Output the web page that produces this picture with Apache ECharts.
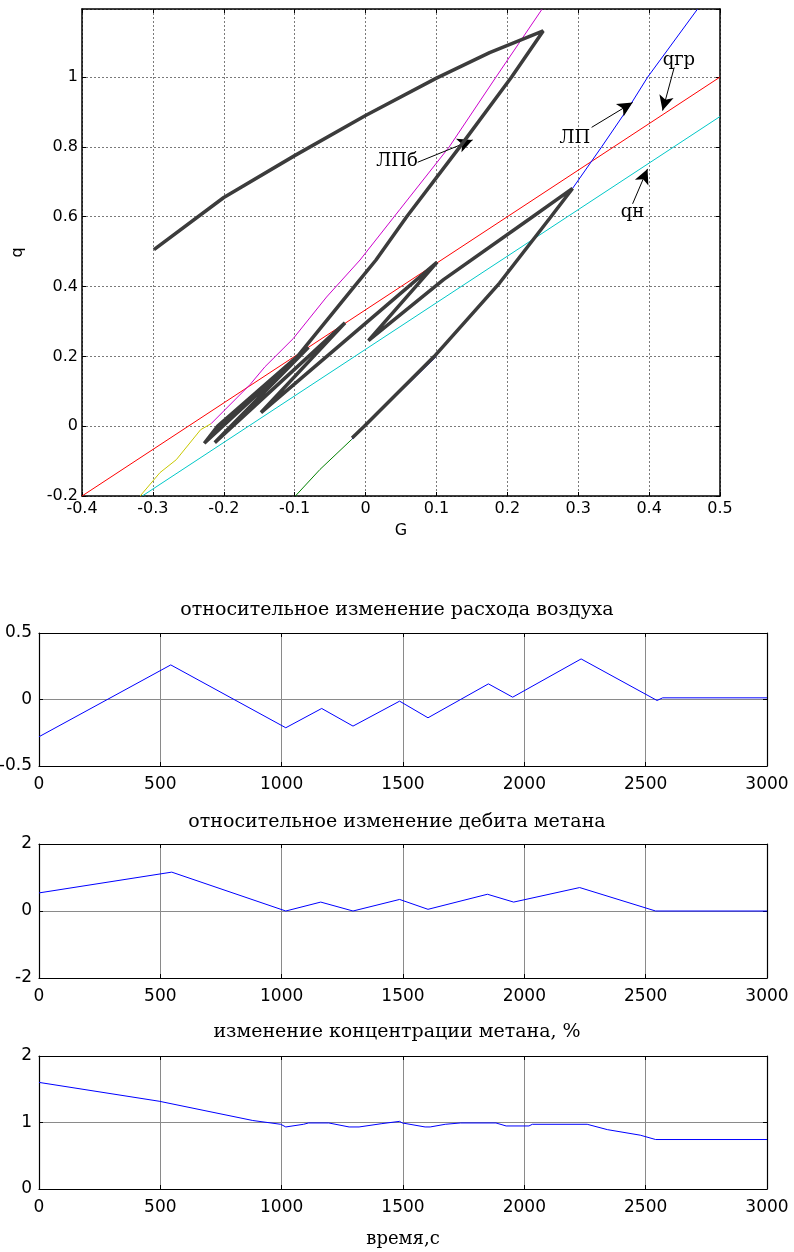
<!DOCTYPE html>
<html><head><meta charset="utf-8">
<script src="https://cdn.jsdelivr.net/npm/echarts/dist/echarts.min.js"></script>
<style>html,body{margin:0;padding:0;background:#fff}#c{width:794px;height:1252px}</style>
</head><body><div id="c"></div>
<script>
// ---------- top plot (q vs G) ----------
const trajG = [-0.2985,-0.2,-0.1,0.0,0.1,0.175,0.2506, 0.206,0.133,0.058,0.0147,-0.016,-0.096,-0.2086,-0.2275, -0.0805,-0.2127,-0.029,-0.1475,0.101,0.004,0.11,0.2357,0.292, 0.2615,0.189,0.097,-0.0018,-0.019];
const trajQ = [0.506,0.655,0.775,0.89,0.997,1.07,1.132, 1.0,0.8,0.6,0.476,0.4,0.2,0.0,-0.049, 0.226,-0.047,0.296,0.039,0.47,0.245,0.42,0.6,0.681, 0.6,0.41,0.2,0.0,-0.034];
const qgrG = [-0.4, 0.5], qgrQ = [-0.2, 1.0];
const qnG = [-0.315, 0.5], qnQ = [-0.2, 0.887];
const lpbG = [-0.218,-0.163,-0.142,-0.102,-0.055,-0.0078,0.0485,0.118,0.184,0.2488];
const lpbQ = [0.007,0.119,0.17,0.251,0.37,0.476,0.621,0.8,1.0,1.194];
const lpG = [0.292,0.333,0.3743,0.398,0.468], lpQ = [0.681,0.8,0.923,1.0,1.194];
const yelG = [-0.318,-0.29,-0.267,-0.2326,-0.218], yelQ = [-0.2,-0.133,-0.096,-0.01,0.007];
const grnG = [-0.099,-0.0643,-0.0196], grnQ = [-0.2,-0.124,-0.038];
const navG = [-0.0196,0.1], navQ = [-0.038,0.2];
// annotations
const annText = ['ЛПб','ЛП','qгр','qн'];
const annG = [0.0443,0.2953,0.442,0.3767], annQ = [0.758,0.824,1.047,0.612];
const arrFromG = [0.0735,0.3189,0.4354,0.3767], arrFromQ = [0.756,0.856,1.0275,0.637];
const arrToG = [0.151,0.3767,0.419,0.3978], arrToQ = [0.82,0.927,0.904,0.737];
// ---------- time series ----------
const airT = [0,543,1017,1165,1294,1486,1603,1852,1952,2234,2547,2570,3000];
const airV = [-0.28,0.26,-0.2125,-0.0675,-0.2,-0.0125,-0.1375,0.1175,0.0175,0.305,-0.0075,0.0125,0.0125];
const methT = [0,547,1017,1161,1294,1486,1603,1848,1956,2228,2541,3000];
const methV = [0.54,1.16,0.0,0.266,0.0,0.345,0.05,0.50,0.266,0.70,0.0,0.0];
const concT = [0,495,881,996,1017,1090,1111,1194,1278,1319,1413,1486,1497,1591,1612,1674,1737,1883,1925,2019,2033,2259,2342,2478,2541,3000];
const concV = [1.603,1.32,1.03,0.973,0.933,0.973,0.993,0.993,0.933,0.933,0.983,1.017,0.993,0.933,0.933,0.973,0.993,0.993,0.948,0.948,0.973,0.973,0.893,0.809,0.744,0.744];
const titles = ['относительное изменение расхода воздуха','относительное изменение дебита метана','изменение концентрации метана, %'];

const zip = (a,b) => a.map((v,i)=>[v,b[i]]);
const SANS = 'DejaVu Sans', SERIF = 'DejaVu Serif';
const fmt = v => { const r = Math.round(v*10)/10; return Math.abs(r - v) < 1e-6 ? String(r) : ''; };

const grids = [
  {left:82, right:74, top:9, height:487},
  {left:39, right:27, top:633, height:133},
  {left:39, right:27, top:844, height:134},
  {left:39, right:27, top:1056, height:133}
];
const ranges = [
  {x:[-0.4,0.5,0.1], y:[-0.2,1.195,0.2]},
  {x:[0,3000,500], y:[-0.5,0.5,0.5]},
  {x:[0,3000,500], y:[-2,2,2]},
  {x:[0,3000,500], y:[0,2,1]}
];
const xAxes = [], yAxes = [];
ranges.forEach((r,gi)=>{
  const top = gi===0;
  const split = top ? {show:true, lineStyle:{color:'#7a7a7a', type:[2,2], width:1}} : {show:true, lineStyle:{color:'#8a8a8a', width:1}};
  const tick = {show:true, inside:true, length:4, lineStyle:{color:'#000'}};
  const line = {show:true, onZero:false, lineStyle:{color:'#000', width: top?1.5:1.2}};
  const lab = {show:true, color:'#000', fontFamily:SANS, fontSize: top?16:17, margin: top?5:10, formatter: fmt, showMaxLabel: true};
  xAxes.push({type:'value', gridIndex:gi, min:r.x[0], max:r.x[1], interval:r.x[2], position:'bottom',
    axisLine:line, axisTick:tick, splitLine:split, axisLabel:lab,
    name: gi===0?'G':(gi===3?'время,с':''), nameLocation:'middle', nameGap: gi===0?27:41,
    nameTextStyle:{color:'#000', fontFamily: gi===0?SANS:SERIF, fontSize: gi===0?16:18}});
  xAxes.push({type:'value', gridIndex:gi, min:r.x[0], max:r.x[1], interval:r.x[2], position:'top',
    axisLine:line, axisTick:tick, splitLine:{show:false}, axisLabel:{show:false}});
  yAxes.push({type:'value', gridIndex:gi, min:r.y[0], max:r.y[1], interval:r.y[2], position:'left',
    axisLine:line, axisTick:tick, splitLine:split,
    axisLabel:Object.assign({}, lab, {margin: top?4:7, showMaxLabel: gi!==0}),
    name: gi===0?'q':'', nameLocation:'middle', nameGap:56,
    nameTextStyle:{color:'#000', fontFamily:SANS, fontSize:16}});
  yAxes.push({type:'value', gridIndex:gi, min:r.y[0], max:r.y[1], interval:r.y[2], position:'right',
    axisLine:line, axisTick:tick, splitLine:{show:false}, axisLabel:{show:false}});
});

const ln = (data, color, width, ai, z) => ({type:'line', xAxisIndex:ai, yAxisIndex:ai, data, showSymbol:false, symbol:'none',
  lineStyle:{color, width}, z: z||2, silent:true, clip:true});

const series = [
  ln(zip(qgrG,qgrQ), '#ff0000', 1, 0),
  ln(zip(qnG,qnQ), '#00c8c8', 1, 0),
  ln(zip(yelG,yelQ), '#c8c800', 1, 0),
  ln(zip(lpbG,lpbQ), '#cc00cc', 1, 0),
  ln(zip(grnG,grnQ), '#008000', 1, 0),
  ln(zip(navG,navQ), '#000080', 1, 0),
  ln(zip(lpG,lpQ), '#0000ff', 1, 0),
  ln(zip(trajG,trajQ), '#3c3c3c', 3.5, 0, 5),
  {type:'scatter', xAxisIndex:0, yAxisIndex:0, symbolSize:0, z:6, silent:true,
    itemStyle:{opacity:1},
    data: annText.map((t,i)=>({value:[annG[i],annQ[i]], name:t})),
    label:{show:true, position:'inside', formatter: p=>p.name, color:'#000', opacity:1, textBorderWidth:0, fontFamily:SERIF, fontSize:18},
    markLine:{silent:true, symbol:['none','arrow'], symbolSize:[11,15], animation:false,
      lineStyle:{color:'#000', width:1, type:'solid', opacity:1}, itemStyle:{color:'#000', opacity:1}, label:{show:false},
      data: arrFromG.map((g,i)=>[{coord:[g,arrFromQ[i]]},{coord:[arrToG[i],arrToQ[i]]}])}},
  ln(zip(airT,airV), '#0000ff', 1, 2),
  ln(zip(methT,methV), '#0000ff', 1, 4),
  ln(zip(concT,concV), '#0000ff', 1, 6)
];

const chart = echarts.init(document.getElementById('c'), null, {renderer:'canvas'});
chart.setOption({
  animation:false,
  backgroundColor:'#fff',
  title: titles.map((t,i)=>({text:t, left:'center', top:[596,808,1018][i],
    textStyle:{fontFamily:SERIF, fontSize:19, fontWeight:'normal', color:'#000'}})),
  grid: grids.map(g=>Object.assign({containLabel:false, outerBoundsMode:'none'}, g)),
  xAxis: xAxes, yAxis: yAxes, series
});
</script></body></html>
